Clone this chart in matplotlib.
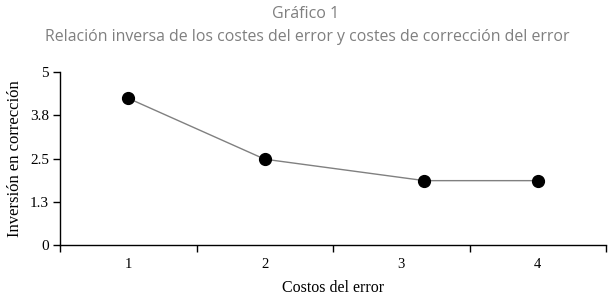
import numpy as np
import matplotlib.pyplot as plt

# data
costos = [1, 2, 3.17, 4]
inversion = [4.24, 2.48, 1.86, 1.86]
x_labels = ['1', '2', '3', '4']
y_ticks = [0, 1.25, 2.5, 3.75, 5]
y_labels = ['0', '1.3', '2.5', '3.8', '5']

serif = ['Liberation Serif', 'DejaVu Serif']

fig = plt.figure(figsize=(6.13, 2.98), dpi=100)
ax = fig.add_axes([60/613, 1 - 245/298, 546/613, 173/298])

ax.plot(costos, inversion, color='#808080', linewidth=1, zorder=2)
ax.plot(costos, inversion, 'o', color='black', markersize=8.5, zorder=3)

ax.set_xlim(0.5, 4.5)
ax.set_ylim(0, 5)

# ticks between categories, labels at centres
ax.set_xticks([0.5, 1.5, 2.5, 3.5, 4.5])
ax.set_xticklabels([])
ax.set_xticks([1, 2, 3, 4], minor=True)
ax.set_xticklabels(x_labels, minor=True, fontfamily=serif, fontsize=10.5)
ax.tick_params(axis='x', which='minor', length=0, pad=9)
ax.tick_params(axis='x', which='major', length=5, width=1, direction='out')

ax.set_yticks(y_ticks)
ax.set_yticklabels(y_labels, fontfamily=serif, fontsize=11)
ax.tick_params(axis='y', length=5, width=1, direction='out', pad=3)

for s in ['top', 'right']:
    ax.spines[s].set_visible(False)
ax.spines['left'].set_linewidth(1)
ax.spines['bottom'].set_linewidth(1)

ax.set_xlabel('Costos del error', fontfamily=serif, fontsize=11.5, labelpad=7)
ax.set_ylabel('Inversión en corrección', fontfamily=serif, fontsize=12, labelpad=5)

fig.text(306/613, 1 - 14/298, 'Gráfico 1', ha='center', va='center',
         fontfamily='Open Sans', fontsize=11.5, color='#7f7f7f')
fig.text(307.5/613, 1 - 37/298,
         'Relación inversa de los costes del error y costes de corrección del error',
         ha='center', va='center', fontfamily='Open Sans', fontsize=11.4, color='#7f7f7f')

fig.savefig('out.png', dpi=100)
